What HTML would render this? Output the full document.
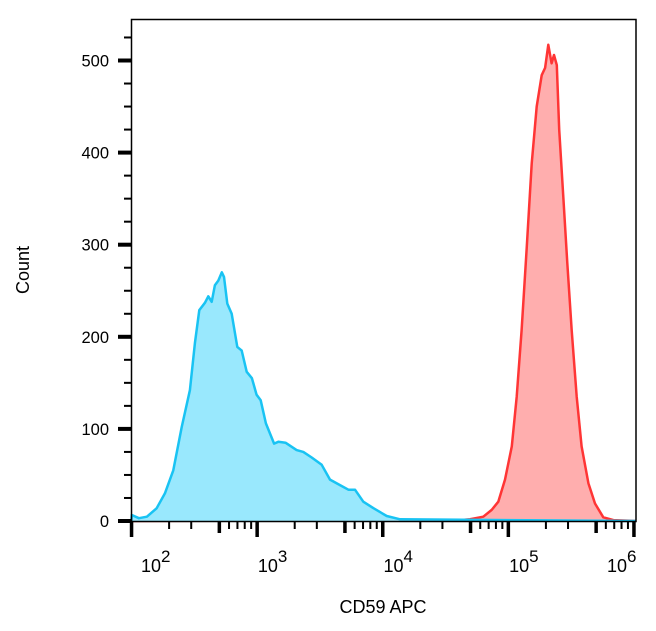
<!DOCTYPE html>
<html><head><meta charset="utf-8"><style>
body{margin:0;background:#fff;}
svg{display:block;font-family:"Liberation Sans",Arial,sans-serif;}
</style></head><body>
<svg id="chart" width="656" height="631" viewBox="0 0 656 631">
<g id="fills"></g>
<rect x="131.5" y="19.5" width="504.5" height="502" fill="none" stroke="#000" stroke-width="1.5"/>
<g id="ticks"></g>
<text transform="translate(29,270) rotate(-90)" text-anchor="middle" font-size="18">Count</text>
<text x="383" y="613" text-anchor="middle" font-size="18">CD59 APC</text>
</svg>
<script>
const blueX=[101,115,133,159,185,216,252,293,321,348,386,410,437,463,493,525,547,581,630,698,757,830,912,995,1072,1180,1370,1480,1690,2070,2340,2730,3280,3820,4590,5350,6040,7030,8450,10800,13800];
const blueY=[6.5,3,4.7,13.8,30,55,102,142,193,229,237,244,238,256,261,270,265,236,225,189,185,162,155,137,131,106,84,86,85,77,75,69,61,45,39,34,34,21,14,5.4,1.8];
const redX=[41300,49700,63500,74000,83600,94400,107000,117000,128000,141000,154000,169000,185000,197000,209000,222000,232000,244000,255000,275000,296000,321000,352000,385000,436000,492000,573000,689000];
const redY=[1,2,4.7,12,21,45,81,135,207,298,388,450,484,492,517,497,506,495,425,352,280,207,135,81,41,19,4,1];
const yTicks=[0,100,200,300,400,500];
const xDecades=[2,3,4,5,6];
const X0=131.3,DEC=125.6,Y0=521,YS=0.921;
function xs(v){return X0+(Math.log10(v)-2)*DEC;}
function ys(c){return Y0-c*YS;}
const NS="http://www.w3.org/2000/svg";
const fills=document.getElementById('fills'),ticks=document.getElementById('ticks');
function mk(tag,attrs,parent){const e=document.createElementNS(NS,tag);for(const k in attrs)e.setAttribute(k,attrs[k]);parent.appendChild(e);return e;}
function series(xv,yv,fill,stroke,name){
  let d='M'+X0+','+Y0;
  for(let i=0;i<xv.length;i++)d+=' L'+xs(xv[i]).toFixed(1)+','+ys(yv[i]).toFixed(1);
  d+=' L636,'+Y0;
  const a=mk('path',{d:d+' Z',fill:fill,stroke:'none'},fills);
  
  
  const l=mk('path',{d:d,fill:'none',stroke:stroke,'stroke-width':2.5,'stroke-linejoin':'round'},fills);
  
  
}
series(redX,redY,'#ffaeae','#ff3535','red-histogram');
series(blueX,blueY,'#99e8fd','#19c3f3','blue-histogram');
for(let c=0;c<=525;c+=25){
  const major=c%100===0;const y=ys(c);
  const t=mk('rect',{x:major?118:124,y:y-(major?2:1),width:major?13.5:7.5,height:major?4:2,fill:'#000'},ticks);
  
  
}
yTicks.forEach(v=>{
  const t=mk('text',{x:109,y:ys(v)+6,'text-anchor':'end','font-size':16.5},ticks);
  t.textContent=v;
  
  
});
xDecades.forEach((p,i)=>{
  const base=Math.pow(10,p);
  const t=mk('rect',{x:xs(base)-1.5,y:521,width:3.5,height:16,fill:'#000'},ticks);
  
  
  if(i<xDecades.length-1){
    [2,3,5,6,7,8,9].forEach(m=>{
      const x=xs(m*base);const five=m===5;
      const mt=mk('rect',{x:x-(five?1.5:1),y:521,width:five?3.5:2,height:five?12:8,fill:'#000'},ticks);
      
      
    });
  }
  let lx=xs(base)+1;
  if(p===2)lx=141;
  if(p===6)lx=607;
  const lab=mk('text',{x:lx,y:572,'font-size':18},ticks);
  
  
  lab.appendChild(document.createTextNode('10'));
  const s=mk('tspan',{dy:-10,'font-size':17},lab);s.textContent=p;
});
</script>
</body></html>
